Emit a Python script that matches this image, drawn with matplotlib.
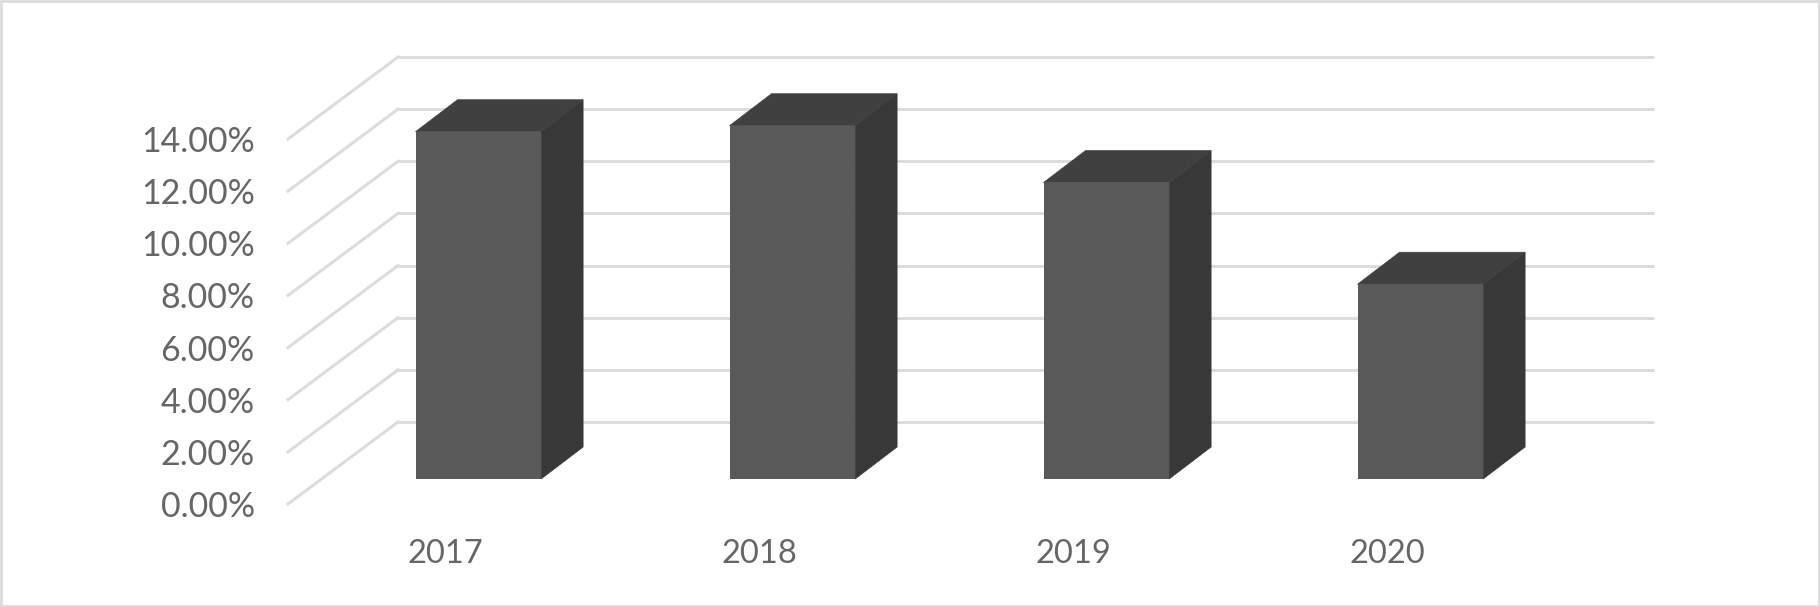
import matplotlib

matplotlib.use('Agg')

import matplotlib.pyplot as plt
from matplotlib.patches import Polygon, Rectangle
from matplotlib.transforms import Affine2D, IdentityTransform

years = ['2017', '2018', '2019', '2020']
rates = [13.32, 13.55, 11.37, 7.47]
y_ticks = [0, 2, 4, 6, 8, 10, 12, 14]
y_labels = ['0.00%', '2.00%', '4.00%', '6.00%', '8.00%', '10.00%', '12.00%', '14.00%']

W, H = 1820, 607
plt.rcParams['font.family'] = ['Lato', 'DejaVu Sans']

fig = plt.figure(figsize=(W / 100, H / 100), dpi=100, facecolor='white')
# the axes is the front edge of the floor, the rest is offset from it in pixels
ax = fig.add_axes([288 / W, 103 / H, 1256 / W, 365 / H])
ax.set_xlim(-0.5, 3.5)
ax.set_ylim(0, 14)

# depth offsets, in pixels
back = (110, 82)
bar_front = (33.3, 25)
bar_depth = (42, 32)
bar_width = 0.4

grid_c = '#dcdcdc'
text_c = '#666666'
front_c = '#595959'
side_c = '#383838'
top_c = '#404040'

# back wall lines + the diagonal on the side wall
back_tr = ax.transData + Affine2D().translate(*back)
for v in y_ticks:
    ax.plot([-0.5, 3.5], [v, v], color=grid_c, lw=2.2, transform=back_tr,
            clip_on=False, zorder=1, solid_capstyle='butt')
    x0, y0 = ax.transData.transform((-0.5, v))
    ax.plot([x0, x0 + back[0]], [y0, y0 + back[1]], color=grid_c, lw=2.2,
            transform=IdentityTransform(), clip_on=False, zorder=1)

# bars: front face through the axes, side and top faces from its corners
front_tr = ax.transData + Affine2D().translate(*bar_front)
for i, r in enumerate(rates):
    xl, yb = front_tr.transform((i - bar_width / 2, 0))
    xr, yt = front_tr.transform((i + bar_width / 2, r))
    dx, dy = bar_depth
    side = Polygon([(xr, yb), (xr + dx, yb + dy), (xr + dx, yt + dy), (xr, yt)],
                   closed=True, fc=side_c, ec=side_c, lw=0.5, transform=IdentityTransform(),
                   clip_on=False, zorder=2)
    top = Polygon([(xl, yt), (xr, yt), (xr + dx, yt + dy), (xl + dx, yt + dy)],
                  closed=True, fc=top_c, ec=top_c, lw=0.5, transform=IdentityTransform(),
                  clip_on=False, zorder=2)
    ax.add_patch(side)
    ax.add_patch(top)
ax.bar(range(len(years)), rates, width=bar_width, color=front_c, transform=front_tr,
       clip_on=False, zorder=3)

ax.set_xticks(range(len(years)))
ax.set_xticklabels(years)
ax.set_yticks(y_ticks)
ax.set_yticklabels(y_labels)
ax.tick_params(axis='x', length=0, pad=25, labelsize=23.5, labelcolor=text_c)
ax.tick_params(axis='y', length=0, pad=24, labelsize=24.5, labelcolor=text_c)
for s in ax.spines.values():
    s.set_visible(False)
ax.patch.set_visible(False)

# outer chart border
fig.add_artist(Rectangle((1 / W, 1 / H), 1 - 2 / W, 1 - 2 / H, transform=fig.transFigure,
                         fill=False, ec='#dcdcdc', lw=2))

fig.savefig('out.png', dpi=100)
